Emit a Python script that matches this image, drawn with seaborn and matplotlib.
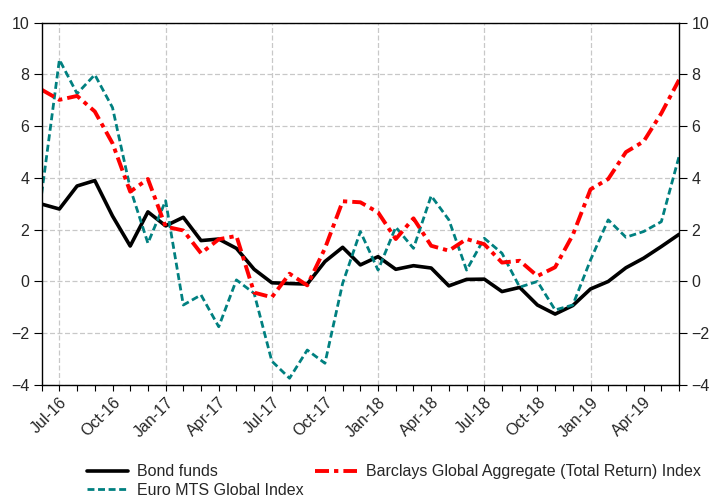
import numpy as np
import pandas as pd
import matplotlib
matplotlib.use("Agg")
import matplotlib.pyplot as plt
import seaborn as sns

months = list(pd.date_range("2016-06-01", "2019-06-01", freq="MS").strftime("%b-%y"))
bond_funds = [2.99, 2.80, 3.69, 3.90, 2.53, 1.37, 2.69, 2.15, 2.48, 1.58, 1.64, 1.28,
              0.47, -0.05, -0.08, -0.10, 0.77, 1.32, 0.64, 0.96, 0.47, 0.61, 0.52, -0.17,
              0.08, 0.09, -0.39, -0.23, -0.91, -1.26, -0.93, -0.29, 0.00, 0.53, 0.90, 1.35, 1.82]
barclays = [7.41, 7.02, 7.17, 6.57, 5.34, 3.47, 3.96, 2.12, 1.97, 1.09, 1.63, 1.76,
            -0.43, -0.61, 0.30, -0.15, 1.28, 3.10, 3.06, 2.67, 1.64, 2.44, 1.38, 1.19,
            1.64, 1.44, 0.73, 0.80, 0.21, 0.55, 1.80, 3.56, 3.96, 5.00, 5.41, 6.50, 7.79]
euro_mts = [3.40, 8.57, 7.26, 7.99, 6.72, 3.60, 1.48, 3.12, -0.91, -0.52, -1.75, 0.06,
            -0.46, -3.08, -3.74, -2.65, -3.16, -0.07, 1.93, 0.44, 2.10, 1.28, 3.31, 2.38,
            0.44, 1.67, 1.09, -0.22, 0.00, -1.10, -0.91, 0.83, 2.38, 1.71, 1.93, 2.31, 4.83]
tick_labels = ["Jul-16", "Oct-16", "Jan-17", "Apr-17", "Jul-17", "Oct-17",
               "Jan-18", "Apr-18", "Jul-18", "Oct-18", "Jan-19", "Apr-19"]
grid_labels = ["Jul-16", "Jan-17", "Jul-17", "Jan-18", "Jul-18", "Jan-19"]
y_ticks = [-4, -2, 0, 2, 4, 6, 8, 10]

sns.set_theme(style="white")
plt.rcParams['font.family'] = ['Liberation Sans', 'DejaVu Sans']

df = pd.DataFrame({"x": np.arange(len(months)), "month": months,
                   "Bond funds": bond_funds,
                   "Barclays Global Aggregate (Total Return) Index": barclays,
                   "Euro MTS Global Index": euro_mts})

fig = plt.figure(figsize=(7.15, 4.97), dpi=100)
ax = fig.add_axes([0.0583, 0.2254, 0.8914, 0.7289])

pos = {m: i for i, m in enumerate(months)}
for g in grid_labels:
    ax.axvline(pos[g], color="#c8c8c8", lw=0.9, ls=(0, (4, 2)), zorder=0)
for yv in y_ticks:
    ax.axhline(yv, color="#c8c8c8", lw=0.9, ls=(0, (4, 2)), zorder=0)

sns.lineplot(data=df, x="x", y="Bond funds", ax=ax, color="black", lw=2.6,
             label="Bond funds")
sns.lineplot(data=df, x="x", y="Euro MTS Global Index", ax=ax, color="#008080", lw=2.0,
             label="Euro MTS Global Index")
sns.lineplot(data=df, x="x", y="Barclays Global Aggregate (Total Return) Index", ax=ax,
             color="#ff0000", lw=2.8, label="Barclays Global Aggregate (Total Return) Index")
data_lines = ax.get_lines()[-3:]
data_lines[1].set_dashes((2.5, 1.3))
data_lines[2].set_dashes((3.6, 1.3, 1.1, 1.3))

ax.set_xlim(0, len(months) - 1)
ax.set_ylim(-4, 10)
ax.set_yticks(y_ticks)
ax.set_xticks([pos[t] for t in tick_labels])
ax.set_xticklabels(tick_labels, rotation=45, ha="right", rotation_mode="anchor", fontsize=11.5)
ax.set_xticks(np.arange(len(months)), minor=True)
ax.set_xlabel("")
ax.set_ylabel("")
ax.tick_params(axis="y", which="both", direction="out", length=6, width=0.8,
               left=True, right=True, labelleft=True, labelright=True, labelsize=11.5,
               color="black", pad=3)
ax.tick_params(axis="x", which="both", direction="out", length=4, width=0.8,
               bottom=True, color="black", pad=3)
for s in ax.spines.values():
    s.set_color("black")
    s.set_linewidth(1.0)

lab = ["Bond funds", "Euro MTS Global Index", "Barclays Global Aggregate (Total Return) Index"]
ax.legend(data_lines, lab, ncol=2, loc="upper left", bbox_to_anchor=(0.071, -0.219),
          frameon=False, fontsize=11.5, handlelength=2.6, handletextpad=0.56,
          columnspacing=0.69, labelspacing=0.2, borderaxespad=0, borderpad=0)

fig.savefig("out.png", dpi=100)
